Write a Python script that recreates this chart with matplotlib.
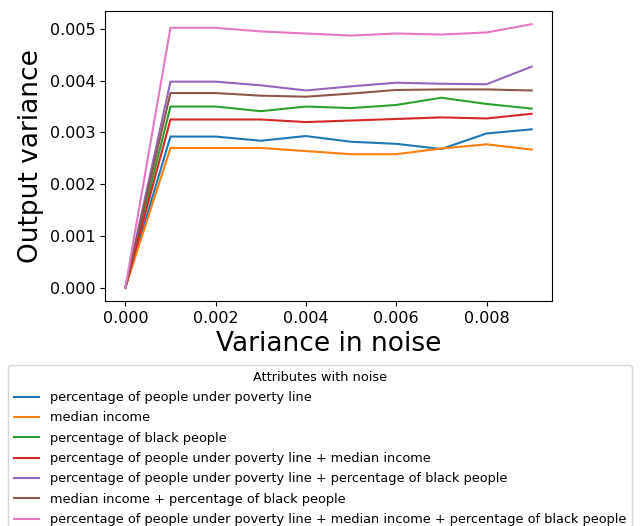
import matplotlib
matplotlib.use("Agg")
import matplotlib.pyplot as plt
import numpy as np

noise = [0.000, 0.001, 0.002, 0.003, 0.004, 0.005, 0.006, 0.007, 0.008, 0.009]

poverty = [0.0, 0.00292, 0.00292, 0.00284, 0.00293, 0.00282, 0.00278, 0.00268, 0.00298, 0.00306]
income = [0.0, 0.00270, 0.00270, 0.00270, 0.00264, 0.00258, 0.00258, 0.00269, 0.00277, 0.00267]
black = [0.0, 0.00350, 0.00350, 0.00341, 0.00350, 0.00347, 0.00353, 0.00367, 0.00355, 0.00346]
poverty_income = [0.0, 0.00325, 0.00325, 0.00325, 0.00320, 0.00323, 0.00326, 0.00329, 0.00327, 0.00336]
poverty_black = [0.0, 0.00398, 0.00398, 0.00391, 0.00381, 0.00389, 0.00396, 0.00394, 0.00393, 0.00427]
income_black = [0.0, 0.00376, 0.00376, 0.00371, 0.00369, 0.00375, 0.00382, 0.00383, 0.00383, 0.00381]
all_three = [0.0, 0.00502, 0.00502, 0.00495, 0.00491, 0.00487, 0.00491, 0.00489, 0.00493, 0.00509]

labels = [
    "percentage of people under poverty line",
    "median income",
    "percentage of black people",
    "percentage of people under poverty line + median income",
    "percentage of people under poverty line + percentage of black people",
    "median income + percentage of black people",
    "percentage of people under poverty line + median income + percentage of black people",
]
series = [poverty, income, black, poverty_income, poverty_black, income_black, all_three]

fig = plt.figure(figsize=(6.44, 5.26), dpi=100)
ax = fig.add_axes([105/644, 1 - 301/526, 447/644, 290/526])

for vals, lab in zip(series, labels):
    ax.plot(noise, vals, label=lab)

ax.set_xticks([0.000, 0.002, 0.004, 0.006, 0.008])
ax.set_yticks([0.000, 0.001, 0.002, 0.003, 0.004, 0.005])
ax.tick_params(labelsize=11.5)
ax.set_xlabel("Variance in noise", fontsize=19)
ax.set_ylabel("Output variance", fontsize=19)

fig.legend(title="Attributes with noise", loc="upper left",
           bbox_to_anchor=(8/644, 1 - 365/526), borderaxespad=0,
           fontsize=9.25, title_fontsize=9.25, labelspacing=0.57,
           borderpad=0.45)

fig.savefig("out.png", dpi=100)
